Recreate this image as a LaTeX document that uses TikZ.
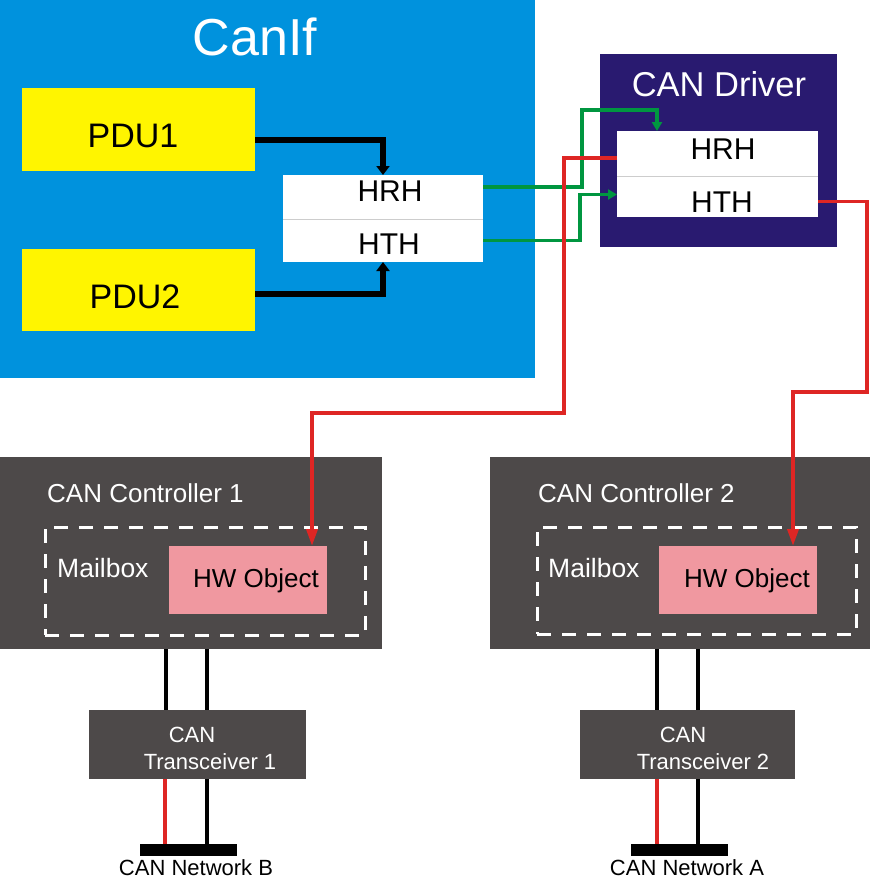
\documentclass[tikz,border=0pt]{standalone}
\usepackage{fontspec}
\setmainfont{Liberation Sans}
\usetikzlibrary{arrows.meta}
\definecolor{canifblue}{RGB}{0,146,221}
\definecolor{drvnavy}{RGB}{41,26,112}
\definecolor{ctlgray}{RGB}{77,73,73}
\definecolor{pduyellow}{RGB}{255,245,0}
\definecolor{hwpink}{RGB}{240,152,160}
\definecolor{lgreen}{RGB}{0,150,64}
\definecolor{lred}{RGB}{222,38,36}
\definecolor{divgray}{RGB}{205,205,205}
\begin{document}
\begin{tikzpicture}[x=1pt,y=-1pt,
  box/.style={rectangle,inner sep=0pt,outer sep=0pt,anchor=north west},
  fs/.style={font=\fontsize{#1}{#1}\selectfont},
  blk/.style={line width=6pt,black,-{Triangle[length=9pt,width=13pt]}},
  grn/.style={line width=3.3pt,lgreen,-{Triangle[length=9pt,width=10pt]}},
  rd/.style={line width=3.5pt,lred,-{Triangle[length=17pt,width=11pt]}},
  wire/.style={line width=4pt,black},
  rwire/.style={line width=4pt,lred},
  divline/.style={line width=1pt,divgray},
  mailbox/.style={box,draw=white,line width=3pt,dash pattern=on 14pt off 11pt},
  wtext/.style={white,inner sep=0pt},
  btext/.style={black,inner sep=0pt}]
\useasboundingbox (0,0) rectangle (870,881);
\fill[white] (0,0) rectangle (870,881);

% CanIf
\node[box,fill=canifblue,minimum width=535pt,minimum height=378pt] (canif) at (0,0) {};
\node[wtext,fs=52] (canift) at (255,37) {CanIf};
\node[box,fill=pduyellow,minimum width=233pt,minimum height=83pt] (pdu1) at (22,88) {};
\node[btext,fs=34] (pdu1t) at (133,136) {PDU1};
\node[box,fill=pduyellow,minimum width=233pt,minimum height=82pt] (pdu2) at (22,249) {};
\node[btext,fs=34] (pdu2t) at (135,297) {PDU2};
\node[box,fill=white,minimum width=200pt,minimum height=44pt] (ifhrh) at (283,175) {};
\node[box,fill=white,minimum width=200pt,minimum height=43pt] (ifhth) at (283,219) {};
\draw[divline] (ifhrh.south west) -- (ifhrh.south east);
\node[btext,fs=30] (ifhrht) at (390,191) {HRH};
\node[btext,fs=30] (ifhtht) at (389,244) {HTH};

% CAN Driver
\node[box,fill=drvnavy,minimum width=237pt,minimum height=193pt] (drv) at (600,54) {};
\node[wtext,fs=34.5] (drvt) at (719,84) {CAN Driver};
\node[box,fill=white,minimum width=201pt,minimum height=45pt] (drhrh) at (617,131) {};
\node[box,fill=white,minimum width=201pt,minimum height=41pt] (drhth) at (617,176) {};
\draw[divline] (drhrh.south west) -- (drhrh.south east);
\node[btext,fs=30] (drhrht) at (723,149) {HRH};
\node[btext,fs=30] (drhtht) at (722,202) {HTH};

% Controllers
\node[box,fill=ctlgray,minimum width=382pt,minimum height=192pt] (ctl1) at (0,457) {};
\node[wtext,fs=26,anchor=west] (ctl1t) at (47,493) {CAN Controller 1};
\node[mailbox,minimum width=320pt,minimum height=108pt] (mb1) at (45,527) {};
\node[wtext,fs=26.5,anchor=west] (mb1t) at (57,568) {Mailbox};
\node[box,fill=hwpink,minimum width=158pt,minimum height=68pt] (hw1) at (169,546) {};
\node[btext,fs=26,anchor=base] (hw1t) at (256,587) {HW Object};

\node[box,fill=ctlgray,minimum width=380pt,minimum height=192pt] (ctl2) at (490,457) {};
\node[wtext,fs=26,anchor=west] (ctl2t) at (538,493) {CAN Controller 2};
\node[mailbox,minimum width=319pt,minimum height=107pt] (mb2) at (537,527) {};
\node[wtext,fs=26.5,anchor=west] (mb2t) at (548,568) {Mailbox};
\node[box,fill=hwpink,minimum width=158pt,minimum height=68pt] (hw2) at (659,546) {};
\node[btext,fs=26,anchor=base] (hw2t) at (747,587) {HW Object};

% Transceivers
\node[box,fill=ctlgray,minimum width=217pt,minimum height=69pt] (trx1) at (89,710) {};
\node[wtext,fs=22] (trx1a) at (192,735) {CAN};
\node[wtext,fs=22] (trx1b) at (210,762) {Transceiver 1};
\node[box,fill=ctlgray,minimum width=215pt,minimum height=69pt] (trx2) at (580,710) {};
\node[wtext,fs=22] (trx2a) at (683,735) {CAN};
\node[wtext,fs=22] (trx2b) at (703,762) {Transceiver 2};

% Network bars
\node[box,fill=black,minimum width=97pt,minimum height=12pt] (bar1) at (140,844) {};
\node[box,fill=black,minimum width=97pt,minimum height=12pt] (bar2) at (631,844) {};
\node[btext,fs=22] (netb) at (196,867.5) {CAN Network B};
\node[btext,fs=22] (neta) at (687,867.5) {CAN Network A};

% Bus wires
\draw[wire] (166,0 |- ctl1.south) -- (166,0 |- trx1.north);
\draw[wire] (207,0 |- ctl1.south) -- (207,0 |- trx1.north);
\draw[rwire] (165,0 |- trx1.south) -- (165,0 |- bar1.north);
\draw[wire] (207,0 |- trx1.south) -- (207,0 |- bar1.north);
\draw[wire] (657,0 |- ctl2.south) -- (657,0 |- trx2.north);
\draw[wire] (698,0 |- ctl2.south) -- (698,0 |- trx2.north);
\draw[rwire] (657,0 |- trx2.south) -- (657,0 |- bar2.north);
\draw[wire] (698,0 |- trx2.south) -- (698,0 |- bar2.north);

% PDU arrows
\draw[blk] ([yshift=-10pt]pdu1.east) -| (ifhrh.north);
\draw[blk] ([yshift=-4pt]pdu2.east) -| (ifhth.south);

% Green connectors
\draw[grn] ([yshift=10pt]ifhrh.east) -| (582,110) -| ([xshift=40pt]drhrh.north west);
\draw[grn] (ifhth.east) -| ([xshift=-37pt,yshift=2pt]drhth.west) -- ([yshift=2pt]drhth.west);

% Red connectors
\draw[rd] ([yshift=-4.5pt]drhrh.west) -| (564,413) -| ([xshift=-15pt]hw1.north east);
\draw[rd] ([yshift=-5pt]drhth.east) -| (867,392) -| ([xshift=-24pt]hw2.north east);
\end{tikzpicture}
\end{document}
